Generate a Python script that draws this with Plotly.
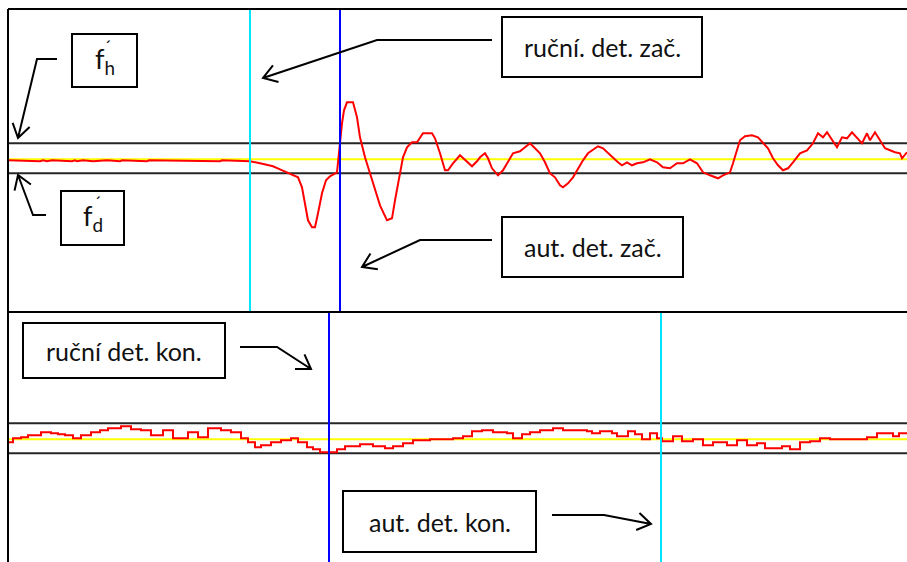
import math
import plotly.graph_objects as go

W, H = 907, 562

# Horní panel – začátek události: číslo vzorku a amplituda signálu
t_zac = [0, 32, 35, 39, 44, 64, 67, 69, 75, 85, 99, 112, 114, 139, 141, 212, 214,
         242, 252, 265, 272, 282, 290, 294, 297, 300, 304, 307, 310, 314, 318, 322,
         329, 331, 334, 336, 339, 345, 349, 352, 357, 362, 367, 372, 379, 384, 387,
         391, 395, 399, 404, 409, 412, 415, 424, 427, 432, 437, 440, 445, 452, 457,
         464, 469, 472, 477, 480, 484, 490, 495, 500, 505, 512, 517, 522, 527, 532,
         537, 542, 547, 552, 555, 560, 565, 570, 575, 580, 587, 590, 595, 600, 605,
         610, 614, 619, 624, 629, 635, 642, 649, 655, 662, 669, 675, 682, 689, 695,
         702, 710, 715, 722, 725, 728, 732, 737, 744, 750, 755, 760, 765, 770, 775,
         780, 785, 792, 799, 805, 810, 815, 819, 824, 829, 834, 839, 844, 849, 854,
         859, 862, 867, 872, 877, 882, 887, 892, 894, 899]
v_zac = [-1, -2, -1, -2, -1, -2, -1, -2, -1, -2, -1, -2, -1, -2, -1, -2, -1,
         -2, -4, -7, -10, -14, -18, -28, -44, -61, -68, -68, -54, -34, -21, -17,
         -13, 7, 36, 49, 57, 57, 42, 22, 2, -14, -31, -46, -61, -59, -41,
         -18, 2, 12, 17, 17, 22, 26, 26, 21, 6, -11, -11, -4, 4, -1,
         -7, -2, 2, 6, 1, -9, -16, -11, -3, 6, 8, 12, 16, 11, 6,
         -3, -14, -18, -26, -28, -24, -18, -9, -1, 6, 11, 13, 11, 6, 1,
         -3, -6, -3, -6, -4, -3, 0, -3, -8, -9, -4, -4, 0, -4, -13,
         -16, -19, -16, -13, -4, 7, 19, 23, 24, 22, 17, 11, 1, -6, -11,
         -9, -3, 6, 9, 16, 26, 22, 27, 19, 12, 22, 21, 27, 22, 16,
         26, 19, 27, 19, 11, 9, 7, 6, 1, 7]

# Dolní panel – konec události
t_kon = [0, 5, 13, 20, 33, 43, 50, 57, 65, 73, 83, 92, 100, 113, 123, 133, 143,
         155, 165, 180, 190, 200, 213, 223, 233, 240, 247, 253, 263, 273, 283, 290,
         299, 305, 312, 320, 329, 337, 352, 365, 377, 385, 395, 405, 422, 435, 445,
         455, 464, 474, 485, 499, 505, 514, 522, 532, 545, 555, 569, 579, 584, 592,
         604, 609, 620, 627, 634, 642, 649, 654, 665, 674, 685, 695, 705, 719, 729,
         739, 749, 757, 765, 774, 782, 792, 802, 812, 822, 849, 859, 869, 875, 885,
         891, 899]
v_kon = [-3, 1, 2, 4, 7, 6, 5, 4, 1, 4, 7, 9, 11, 13, 10, 9, 4,
         9, 1, 7, 2, 11, 9, 7, 1, -3, -8, -6, -3, -1, 1, -3,
         -8, -10, -13, -13, -10, -7, -5, -7, -9, -7, -4, -1, 0, 0, 1,
         3, 8, 9, 7, 6, 1, 5, 7, 9, 11, 9, 9, 8, 6, 8,
         6, 3, 8, 5, 0, 6, 1, -2, 3, -2, 0, -6, -3, -6, -1,
         -6, -4, -9, -9, -7, -10, -3, -2, 1, 0, 0, 2, 6, 6, 3,
         6, 6]

F_H = 16      # horní mez f_h'
F_D = -14     # dolní mez f_d'
STRED = 0     # střední hodnota

zac_rucni, zac_aut = 242, 332
kon_rucni, kon_aut = 321, 653

N = 899
X0 = 8            # levý okraj grafu (px)
Y_TOP = 9         # horní okraj (px)
Y_SPLIT = 312     # dělicí čára panelů (px)
FONT = "Lato"


def px(x):
    return x / W


def py(y):
    return 1 - y / H


fig = go.Figure()

fig.add_trace(go.Scatter(x=t_zac, y=v_zac, mode="lines", line_shape="linear",
                         line=dict(color="#ff0000", width=2), xaxis="x", yaxis="y",
                         hoverinfo="skip", showlegend=False))
fig.add_trace(go.Scatter(x=t_kon, y=v_kon, mode="lines", line_shape="hv",
                         line=dict(color="#ff0000", width=2), xaxis="x2", yaxis="y2",
                         hoverinfo="skip", showlegend=False))

shapes = []
for xr, yr in (("x", "y"), ("x2", "y2")):
    for val, col in ((F_H, "#262626"), (F_D, "#262626"), (STRED, "#ffff00")):
        shapes.append(dict(type="line", xref=xr + " domain", yref=yr, x0=0, x1=1,
                           y0=val, y1=val, layer="below",
                           line=dict(color=col, width=2)))

for xr, yr, val, col in (("x", "y", zac_rucni, "#00e5ff"), ("x", "y", zac_aut, "#0000ff"),
                         ("x2", "y2", kon_rucni, "#0000ff"), ("x2", "y2", kon_aut, "#00e5ff")):
    shapes.append(dict(type="line", xref=xr, yref=yr + " domain", x0=val, x1=val,
                       y0=0, y1=1, layer="above", line=dict(color=col, width=2)))

# rámeček grafu
for x0, y0, x1, y1 in ((X0, Y_TOP, W, Y_TOP), (X0, Y_TOP, X0, H),
                       (X0, Y_SPLIT, W, Y_SPLIT)):
    shapes.append(dict(type="line", xref="paper", yref="paper", x0=px(x0), y0=py(y0),
                       x1=px(x1), y1=py(y1), line=dict(color="#000000", width=2)))


def arrow(points, head=16, ang=33):
    """Lomená šipka s otevřeným hrotem; body v pixelech."""
    path = "M " + " L ".join(f"{px(x):.5f},{py(y):.5f}" for x, y in points)
    (xa, ya), (xb, yb) = points[-2], points[-1]
    d = math.hypot(xb - xa, yb - ya)
    ux, uy = (xb - xa) / d, (yb - ya) / d
    wings = []
    for s in (1, -1):
        a = math.radians(ang) * s
        rx = ux * math.cos(a) - uy * math.sin(a)
        ry = ux * math.sin(a) + uy * math.cos(a)
        wings.append((xb - head * rx, yb - head * ry))
    path += (f" M {px(wings[0][0]):.5f},{py(wings[0][1]):.5f}"
             f" L {px(xb):.5f},{py(yb):.5f}"
             f" L {px(wings[1][0]):.5f},{py(wings[1][1]):.5f}")
    return dict(type="path", xref="paper", yref="paper", path=path,
                line=dict(color="#000000", width=2))


shapes += [
    arrow([(57, 59), (37, 59), (18, 138)]),
    arrow([(46, 215), (33, 215), (18, 175)]),
    arrow([(492, 40), (377, 40), (263, 78)]),
    arrow([(492, 240), (420, 240), (362, 267)]),
    arrow([(240, 347), (277, 347), (311, 369)]),
    arrow([(552, 515), (604, 515), (651, 524)]),
]

boxes = [
    ((72, 34, 137, 87), "f<sub>h</sub>", 27),
    ((61, 191, 124, 245), "f<sub>d</sub>", 27),
    ((502, 17, 702, 77), "ruční. det. zač.", 25),
    ((502, 217, 683, 277), "aut. det. zač.", 25),
    ((23, 323, 225, 378), "ruční det. kon.", 25),
    ((343, 491, 536, 552), "aut. det. kon.", 25),
]

annotations = []
for (x0, y0, x1, y1), txt, size in boxes:
    shapes.append(dict(type="rect", xref="paper", yref="paper", x0=px(x0), y0=py(y0),
                       x1=px(x1), y1=py(y1), fillcolor="#ffffff",
                       line=dict(color="#000000", width=2)))
    annotations.append(dict(xref="paper", yref="paper", x=px((x0 + x1) / 2),
                            y=py((y0 + y1) / 2), text=txt, showarrow=False,
                            xanchor="center", yanchor="middle",
                            font=dict(family=FONT, size=size, color="#111111")))

# čárky u f_h' a f_d'
for xx, yy in ((107, 46), (97, 202)):
    annotations.append(dict(xref="paper", yref="paper", x=px(xx), y=py(yy), text="´",
                            showarrow=False, xanchor="center", yanchor="middle",
                            font=dict(family=FONT, size=18, color="#111111")))

split = (H - Y_SPLIT) / H
axis_common = dict(visible=False, showgrid=False, zeroline=False, fixedrange=True)

fig.update_layout(
    width=W, height=H, autosize=False,
    margin=dict(l=0, r=0, t=0, b=0, pad=0),
    paper_bgcolor="#ffffff", plot_bgcolor="#ffffff",
    xaxis=dict(domain=[px(X0), 1], range=[0, N], anchor="y", **axis_common),
    yaxis=dict(domain=[split, py(Y_TOP)], range=[159.3 - Y_SPLIT, 159.3 - Y_TOP],
               anchor="x", **axis_common),
    xaxis2=dict(domain=[px(X0), 1], range=[0, N], anchor="y2", **axis_common),
    yaxis2=dict(domain=[0, split], range=[439.3 - H, 439.3 - Y_SPLIT],
                anchor="x2", **axis_common),
    shapes=shapes,
    annotations=annotations,
    showlegend=False,
)

fig.write_html("out.html", config={"displayModeBar": False})
